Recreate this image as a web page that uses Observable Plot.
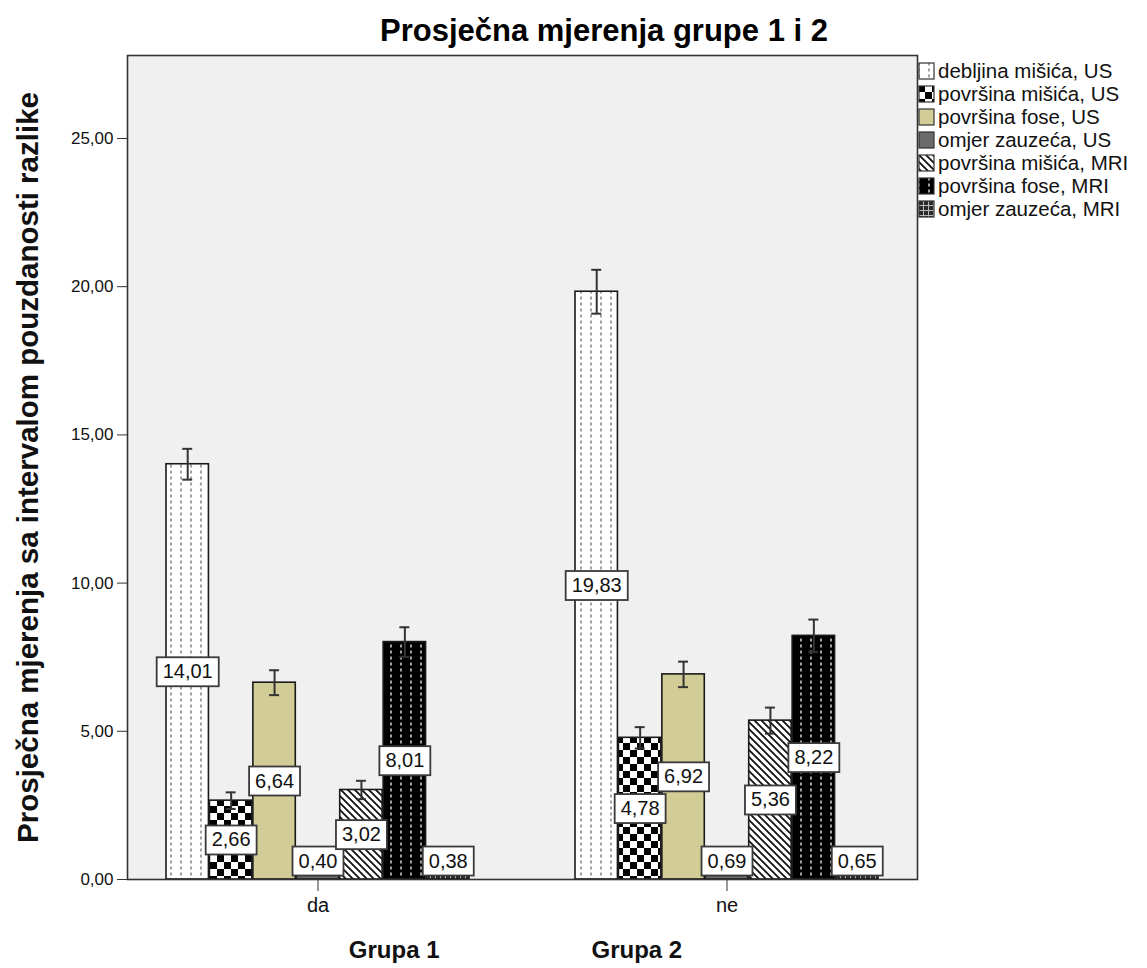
<!DOCTYPE html>
<html>
<head>
<meta charset="utf-8">
<script src="https://cdn.jsdelivr.net/npm/d3@7"></script>
<script src="https://cdn.jsdelivr.net/npm/@observablehq/plot@0.6"></script>
<style>
  body { margin: 0; background: #fff; font-family: "Liberation Sans", Arial, sans-serif; }
  #wrap { position: relative; width: 1147px; height: 968px; overflow: hidden; }
  #title { height: 50px; line-height: 62px; font-size: 31px; font-weight: bold; text-align: center; padding-left: 61px; box-sizing: border-box; width: 1147px; color: #000; }
  #chart { height: 868px; }
  #xlabel { position: absolute; left: 0; top: 918px; width: 1031px; height: 50px; line-height: 64px; text-align: center; font-size: 24px; font-weight: bold; white-space: pre; color: #111; }
  #legend { position: absolute; left: 918px; top: 59px; }
  .item { display: flex; align-items: center; height: 23px; font-size: 20.5px; color: #111; white-space: nowrap; }
  .item svg { margin-right: 3px; flex: none; }
</style>
</head>
<body>
<svg width="0" height="0" style="position:absolute">
  <defs>
    <pattern id="p0" patternUnits="userSpaceOnUse" width="10" height="6">
      <rect width="10" height="6" fill="#ffffff"/>
      <line x1="1" y1="0.5" x2="1" y2="3.5" stroke="#8a8a8a" stroke-width="1.6"/>
    </pattern>
    <pattern id="p1" patternUnits="userSpaceOnUse" width="14" height="14">
      <rect width="14" height="14" fill="#ffffff"/>
      <rect x="0" y="0" width="7" height="7" fill="#000"/>
      <rect x="7" y="7" width="7" height="7" fill="#000"/>
    </pattern>
    <pattern id="p4" patternUnits="userSpaceOnUse" width="7" height="7">
      <rect width="7" height="7" fill="#ffffff"/>
      <path d="M-2,-2L9,9M-2,5L2,9M5,-2L9,2" stroke="#111" stroke-width="1.8"/>
    </pattern>
    <pattern id="p5" patternUnits="userSpaceOnUse" width="10" height="6">
      <rect width="10" height="6" fill="#000000"/>
      <line x1="1" y1="0.5" x2="1" y2="3.5" stroke="#c8c8c8" stroke-width="1.6"/>
    </pattern>
    <pattern id="p6" patternUnits="userSpaceOnUse" width="5" height="5">
      <rect width="5" height="5" fill="#2a2a2a"/>
      <line x1="0" y1="0.5" x2="5" y2="0.5" stroke="#bbbbbb" stroke-width="1"/>
      <line x1="0.5" y1="0" x2="0.5" y2="5" stroke="#bbbbbb" stroke-width="1"/>
    </pattern>
  </defs>
</svg>
<div id="wrap">
  <div id="title">Prosječna mjerenja grupe 1 i 2</div>
  <div id="chart"></div>
  <div id="xlabel"><span>Grupa 1</span><span style="display:inline-block;width:152px"></span><span>Grupa 2</span></div>
  <div id="legend"></div>
</div>
<script>
// ---- data ----
const groups = ["da", "ne"];
const series = [
  "debljina mišića, US",
  "površina mišića, US",
  "površina fose, US",
  "omjer zauzeća, US",
  "površina mišića, MRI",
  "površina fose, MRI",
  "omjer zauzeća, MRI"
];
const meanDa = [14.01, 2.66, 6.64, 0.40, 3.02, 8.01, 0.38];
const meanNe = [19.83, 4.78, 6.92, 0.69, 5.36, 8.22, 0.65];
const ciDa = [0.52, 0.28, 0.42, 0.05, 0.31, 0.50, 0.05];
const ciNe = [0.74, 0.36, 0.43, 0.08, 0.44, 0.55, 0.07];
const yTicks = [0, 5, 10, 15, 20, 25];
const yTitle = "Prosječna mjerenja sa intervalom pouzdanosti razlike";

// ---- styles ----
const fills = ["url(#p0)", "url(#p1)", "#d2cd96", "#6b6b6b", "url(#p4)", "url(#p5)", "url(#p6)"];
const fmt = v => d3.format(".2f")(v).replace(".", ",");

const W = 1147, H = 868, mL = 127, mR = 230, mT = 5, mB = 39;
const pIn = 0.2585, pOut = 0.0927;
const frameW = W - mL - mR;
const step = frameW / (groups.length - pIn + 2 * pOut);
const n = series.length;
const bw = step * (1 - pIn) / n;
const capW = 11;

const rowsFor = i => [
  {group: groups[0], value: meanDa[i], ci: ciDa[i]},
  {group: groups[1], value: meanNe[i], ci: ciNe[i]}
];

const marks = [Plot.frame({fill: "#f0f0f0", stroke: null})];
for (let i = 0; i < n; i++) {
  marks.push(Plot.barY(rowsFor(i), {
    x: "group", y: "value", fill: fills[i], stroke: "#1a1a1a", strokeWidth: 1.6,
    insetLeft: i * bw, insetRight: (n - 1 - i) * bw
  }));
}
for (let i = 0; i < n; i++) {
  const off = (i - (n - 1) / 2) * bw;
  const capInL = i * bw + (bw - capW) / 2, capInR = (n - 1 - i) * bw + (bw - capW) / 2;
  marks.push(Plot.ruleX(rowsFor(i), {x: "group", y1: d => d.value - d.ci, y2: d => d.value + d.ci, dx: off, stroke: "#333", strokeWidth: 2}));
  marks.push(Plot.tickY(rowsFor(i), {x: "group", y: d => d.value + d.ci, insetLeft: capInL, insetRight: capInR, stroke: "#333", strokeWidth: 2}));
  marks.push(Plot.tickY(rowsFor(i), {x: "group", y: d => d.value - d.ci, insetLeft: capInL, insetRight: capInR, stroke: "#333", strokeWidth: 2}));
}
for (let i = 0; i < n; i++) {
  const off = (i - (n - 1) / 2) * bw;
  marks.push(Plot.text(rowsFor(i), {
    x: "group", y: d => Math.max(d.value / 2, 0.62), text: d => fmt(d.value),
    dx: off, fontSize: 20, fill: "#111"
  }));
}
marks.push(Plot.axisY({ticks: yTicks, tickFormat: fmt, tickSize: 10, tickPadding: 4, fontSize: 17, label: null, stroke: "#333", fill: "#111"}));
marks.push(Plot.axisX({tickSize: 12, tickPadding: 6, fontSize: 20, label: null, stroke: "#333", fill: "#111"}));
marks.push(Plot.text([yTitle], {frameAnchor: "left", textAnchor: "middle", rotate: -90, dx: -99, fontSize: 29.5, fontWeight: "bold", fill: "#111"}));
marks.push(Plot.frame({stroke: "#333", strokeWidth: 1.6}));

const svg = Plot.plot({
  width: W, height: H,
  marginLeft: mL, marginRight: mR, marginTop: mT, marginBottom: mB,
  x: {domain: groups, paddingInner: pIn, paddingOuter: pOut},
  y: {domain: [0, 27.8]},
  style: {fontFamily: "Liberation Sans, Arial, sans-serif", background: "transparent", overflow: "visible"},
  marks
});
document.getElementById("chart").append(svg);

// white boxes behind value labels
const valueRe = /^\d+,\d\d$/;
d3.select(svg).selectAll('g[aria-label="text"] text')
  .filter(function () { return valueRe.test(this.textContent); })
  .each(function () {
    const b = this.getBBox();
    const padX = 6, padY = 4;
    d3.select(this.parentNode).insert("rect", () => this)
      .attr("transform", this.getAttribute("transform"))
      .attr("x", b.x - padX).attr("y", b.y - padY + 1)
      .attr("width", b.width + 2 * padX).attr("height", b.height + 2 * padY - 1)
      .attr("fill", "#fff").attr("stroke", "#3a3a3a").attr("stroke-width", 1.8);
  });

// legend
const legend = d3.select("#legend");
series.forEach((s, i) => {
  const item = legend.append("div").attr("class", "item");
  const sw = item.append("svg").attr("width", 17).attr("height", 18);
  sw.append("rect").attr("x", 1).attr("y", 1).attr("width", 15).attr("height", 16)
    .attr("fill", fills[i]).attr("stroke", "#333").attr("stroke-width", 1.2);
  item.append("span").text(s);
});
</script>
</body>
</html>
